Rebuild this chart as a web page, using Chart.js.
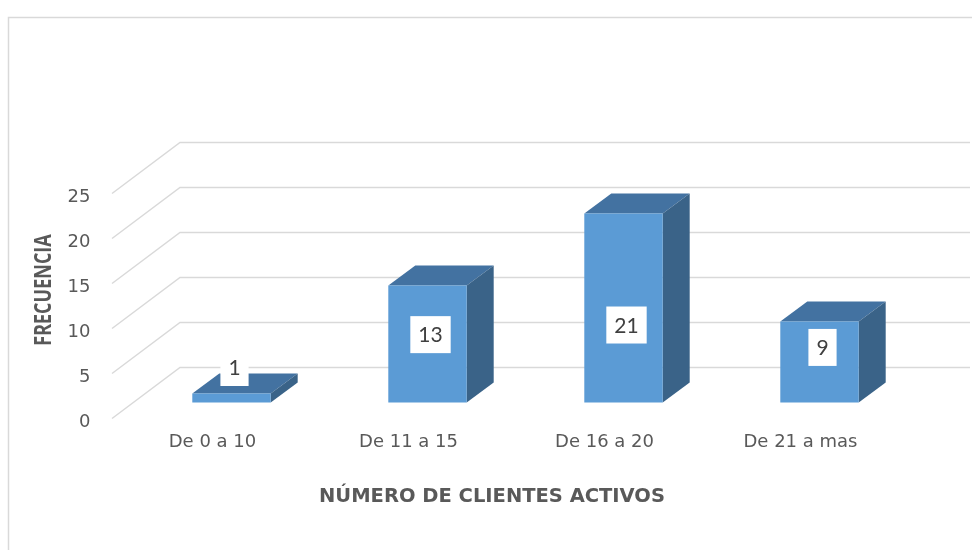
<!DOCTYPE html>
<html>
<head>
<meta charset="utf-8">
<script src="https://cdn.jsdelivr.net/npm/chart.js@4.4.0/dist/chart.umd.min.js"></script>
<style>
  html, body { margin: 0; padding: 0; background: #fff; }
</style>
</head>
<body>
<canvas id="clientesChart" width="972" height="550"></canvas>
<script>
var categorias = ['De 0 a 10', 'De 11 a 15', 'De 16 a 20', 'De 21 a mas'];
var frecuencia = [1, 13, 21, 9];
var ticksY = [0, 5, 10, 15, 20, 25];

var TEXTO = '#595959';
var REJILLA = '#d9d9d9';
var FUENTE = 'DejaVu Sans';

// desplazamientos de la perspectiva
var FONDO = { dx: 68, dy: -51 };        // pared trasera
var PLANO_BARRA = { dx: 19, dy: -16 };  // cara frontal de las barras
var PROF_BARRA = { dx: 27, dy: -20 };   // profundidad de cada barra

var paredes = {
	id: 'paredes',
	beforeDatasetsDraw: function(chart) {
		var ctx = chart.ctx;
		var y = chart.scales.y;
		var left = chart.chartArea.left - 2.5;
		ctx.save();
		ctx.strokeStyle = REJILLA;
		ctx.lineWidth = 1.5;
		// marco
		ctx.strokeRect(8.5, 17.5, 1100, 700);
		ticksY.forEach(function(v) {
			var py = y.getPixelForValue(v);
			ctx.beginPath();
			ctx.moveTo(left, py);
			ctx.lineTo(left + FONDO.dx, py + FONDO.dy);
			ctx.lineTo(chart.width - 2, py + FONDO.dy);
			ctx.stroke();
		});
		ctx.restore();
	}
};

function poligono(ctx, pts, color) {
	ctx.fillStyle = color;
	ctx.beginPath();
	ctx.moveTo(pts[0][0], pts[0][1]);
	for (var i = 1; i < pts.length; i++) ctx.lineTo(pts[i][0], pts[i][1]);
	ctx.closePath();
	ctx.fill();
}

var barras3d = {
	id: 'barras3d',
	afterDatasetsDraw: function(chart, args, opts) {
		var ctx = chart.ctx;
		var meta = chart.getDatasetMeta(0);
		ctx.save();
		meta.data.forEach(function(bar, i) {
			var p = bar.getProps(['x', 'y', 'base', 'width'], true);
			var l = p.x - p.width / 2 + PLANO_BARRA.dx, r = l + p.width;
			var t = p.y + PLANO_BARRA.dy, b = p.base + PLANO_BARRA.dy;
			var dx = PROF_BARRA.dx, dy = PROF_BARRA.dy;
			poligono(ctx, [[l, t], [l + dx, t + dy], [r + dx, t + dy], [r, t]], '#4372a1');
			poligono(ctx, [[r, t], [r + dx, t + dy], [r + dx, b + dy], [r, b]], '#3a6388');
			ctx.fillStyle = '#5b9bd5';
			ctx.fillRect(l, t, r - l, b - t);

			// etiqueta con el valor
			var texto = String(frecuencia[i]);
			ctx.font = opts.tamano + 'px Lato';
			var w = ctx.measureText(texto).width + 16, h = 37;
			var cx = (l + r) / 2 + 3;
			var pos = opts.posicion[i];
			var cy = pos === null ? t - 26 : b - pos * (b - t);
			ctx.fillStyle = '#ffffff';
			ctx.fillRect(cx - w / 2, cy - h / 2, w, h);
			ctx.fillStyle = '#404040';
			ctx.textAlign = 'center';
			ctx.textBaseline = 'middle';
			ctx.fillText(texto, cx, cy + 1);
		});
		ctx.restore();
	}
};

var titulos = {
	id: 'titulos',
	afterDraw: function(chart) {
		var ctx = chart.ctx;
		ctx.save();
		ctx.fillStyle = TEXTO;
		ctx.textAlign = 'center';
		ctx.textBaseline = 'middle';
		ctx.font = 'bold 19.5px "' + FUENTE + '"';
		ctx.fillText('NÚMERO DE CLIENTES ACTIVOS', 492, 497);
		ctx.translate(44, 290);
		ctx.rotate(-Math.PI / 2);
		ctx.scale(1, 1.3);  // letra más ancha, como el título horizontal
		ctx.font = 'bold 18px "Open Sans"';
		ctx.fillText('FRECUENCIA', 0, 0);
		ctx.restore();
	}
};

var config = {
	type: 'bar',
	data: {
		labels: categorias,
		datasets: [{
			label: 'Frecuencia',
			data: frecuencia,
			backgroundColor: 'rgba(0,0,0,0)',
			borderWidth: 0,
			barPercentage: 0.4,
			categoryPercentage: 1
		}]
	},
	options: {
		responsive: false,
		animation: false,
		layout: {
			padding: { top: 193.5, right: 73.5, left: 0, bottom: 0 }
		},
		plugins: {
			legend: { display: false },
			tooltip: { enabled: false },
			barras3d: {
				tamano: 21,
				posicion: [null, 0.58, 0.41, 0.68]
			}
		},
		scales: {
			x: {
				grid: { display: false, drawTicks: false },
				border: { display: false },
				ticks: { color: TEXTO, font: { family: FUENTE, size: 18 }, padding: 13 },
				afterFit: function(s) { s.height = 131.5; }
			},
			y: {
				min: 0,
				max: 25,
				grid: { display: false, drawTicks: false },
				border: { display: false },
				ticks: { stepSize: 5, color: TEXTO, font: { family: FUENTE, size: 18 }, padding: 24, labelOffset: 4 },
				afterFit: function(s) { s.width = 114.5; }
			}
		}
	},
	plugins: [paredes, barras3d, titulos]
};

window.onload = function() {
	var ctx = document.getElementById('clientesChart').getContext('2d');
	window.clientesChart = new Chart(ctx, config);
};
</script>
</body>
</html>
